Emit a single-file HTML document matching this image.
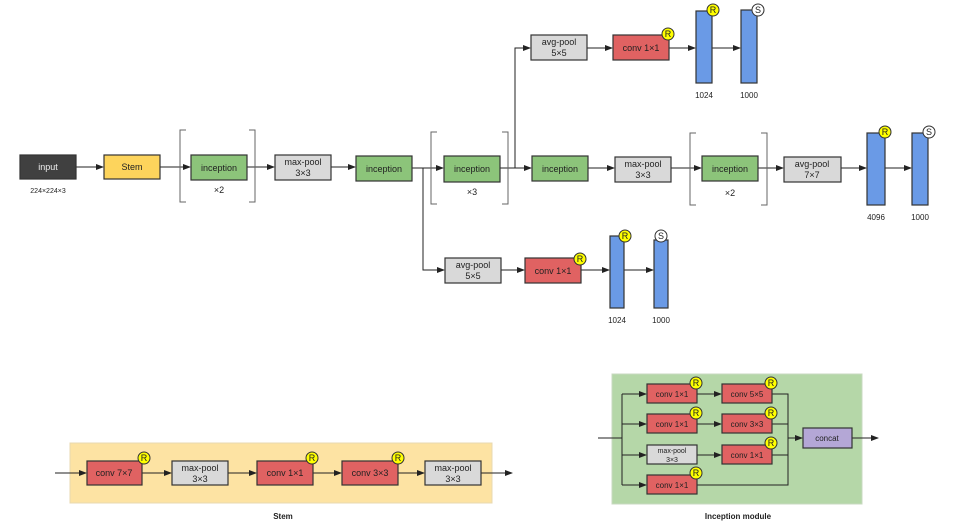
<!DOCTYPE html>
<html><head><meta charset="utf-8"><style>
body{margin:0;background:#fff}
svg{display:block}
text{font-family:"Liberation Sans",sans-serif;font-size:9px;fill:#222;text-anchor:middle}
.b{stroke:#333;stroke-width:1.2}
.g{fill:#8cc47a}.gr{fill:#d9d9d9}.r{fill:#e06262}.bl{fill:#6a9ae6}
.l{stroke:#222;stroke-width:1;fill:none}
.br{stroke:#666;stroke-width:1;fill:none}
</style></head><body>
<svg width="958" height="523" viewBox="0 0 958 523">
<defs><marker id="a" markerWidth="8" markerHeight="6" refX="7" refY="3" orient="auto" markerUnits="userSpaceOnUse"><path d="M0,0L8,3L0,6z" fill="#222"/></marker></defs>
<!-- main row lines -->
<g class="l" marker-end="url(#a)">
<path d="M76,167H103"/><path d="M160,167H190"/><path d="M247,167H274"/><path d="M331,167H355"/><path d="M412,168H443"/>
<path d="M423,168V270H444"/><path d="M501,270H524"/><path d="M581,270H609"/><path d="M624,270H653"/>
<path d="M500,168H531"/><path d="M515,168V48H530"/><path d="M587,48H612"/><path d="M669,48H695"/><path d="M712,48H740"/>
<path d="M588,168H614"/><path d="M671,168H701"/><path d="M758,168H783"/><path d="M841,168H866"/><path d="M885,168H911"/>
</g>
<!-- brackets -->
<path class="br" d="M186,130H180V202H186M249,130H255V202H249"/>
<path class="br" d="M437,132H431V204H437M502,132H508V204H502"/>
<path class="br" d="M696,133H690V205H696M761,133H767V205H761"/>
<!-- boxes -->
<rect class="b" x="20" y="155" width="56" height="24" fill="#404040"/><text x="48" y="170" style="fill:#eee">input</text>
<text x="48" y="193" style="font-size:7px">224×224×3</text>
<rect class="b" x="104" y="155" width="56" height="24" fill="#fdd45c"/><text x="132" y="170">Stem</text>
<rect class="b g" x="191" y="155" width="56" height="25"/><text x="219" y="171">inception</text><text x="219" y="193">×2</text>
<rect class="b gr" x="275" y="155" width="56" height="25"/><text x="303" y="165">max-pool</text><text x="303" y="176">3×3</text>
<rect class="b g" x="356" y="156" width="56" height="25"/><text x="384" y="172">inception</text>
<rect class="b g" x="444" y="156" width="56" height="26"/><text x="472" y="172">inception</text><text x="472" y="195">×3</text>
<rect class="b gr" x="445" y="258" width="56" height="25"/><text x="473" y="268">avg-pool</text><text x="473" y="279">5×5</text>
<rect class="b r" x="525" y="258" width="56" height="25"/><text x="553" y="274">conv 1×1</text>
<rect class="b bl" x="610" y="236" width="14" height="72"/><rect class="b bl" x="654" y="240" width="14" height="68"/>
<text x="617" y="323" style="font-size:8px">1024</text><text x="661" y="323" style="font-size:8px">1000</text>
<rect class="b gr" x="531" y="35" width="56" height="25"/><text x="559" y="45">avg-pool</text><text x="559" y="56">5×5</text>
<rect class="b r" x="613" y="35" width="56" height="25"/><text x="641" y="51">conv 1×1</text>
<rect class="b bl" x="696" y="11" width="16" height="72"/><rect class="b bl" x="741" y="10" width="16" height="73"/>
<text x="704" y="98" style="font-size:8px">1024</text><text x="749" y="98" style="font-size:8px">1000</text>
<rect class="b g" x="532" y="156" width="56" height="25"/><text x="560" y="172">inception</text>
<rect class="b gr" x="615" y="157" width="56" height="25"/><text x="643" y="167">max-pool</text><text x="643" y="178">3×3</text>
<rect class="b g" x="702" y="156" width="56" height="25"/><text x="730" y="172">inception</text><text x="730" y="196">×2</text>
<rect class="b gr" x="784" y="157" width="57" height="25"/><text x="812" y="167">avg-pool</text><text x="812" y="178">7×7</text>
<rect class="b bl" x="867" y="133" width="18" height="72"/><rect class="b bl" x="912" y="133" width="16" height="72"/>
<text x="876" y="220" style="font-size:8px">4096</text><text x="920" y="220" style="font-size:8px">1000</text>
<!-- R / S circles -->
<g stroke="#333" stroke-width="1">
<circle cx="580" cy="259" r="6" fill="#ffff00"/><circle cx="625" cy="236" r="6" fill="#ffff00"/><circle cx="661" cy="236" r="6" fill="#fff"/>
<circle cx="668" cy="34" r="6" fill="#ffff00"/><circle cx="713" cy="10" r="6" fill="#ffff00"/><circle cx="758" cy="10" r="6" fill="#fff"/>
<circle cx="885" cy="132" r="6" fill="#ffff00"/><circle cx="929" cy="132" r="6" fill="#fff"/>
</g>
<g style="font-size:8px">
<text x="580" y="262">R</text><text x="625" y="239">R</text><text x="661" y="239">S</text>
<text x="668" y="37">R</text><text x="713" y="13">R</text><text x="758" y="13">S</text>
<text x="885" y="135">R</text><text x="929" y="135">S</text>
</g>
<!-- Stem panel -->
<rect x="70" y="443" width="422" height="60" fill="#fde3a3" stroke="#e8d8b0"/>
<g class="l" marker-end="url(#a)">
<path d="M55,473H86"/><path d="M142,473H171"/><path d="M228,473H256"/><path d="M313,473H341"/><path d="M398,473H424"/><path d="M481,473H512"/>
</g>
<rect class="b r" x="87" y="461" width="55" height="24"/><text x="114" y="476">conv 7×7</text>
<rect class="b gr" x="172" y="461" width="56" height="24"/><text x="200" y="471">max-pool</text><text x="200" y="482">3×3</text>
<rect class="b r" x="257" y="461" width="56" height="24"/><text x="285" y="476">conv 1×1</text>
<rect class="b r" x="342" y="461" width="56" height="24"/><text x="370" y="476">conv 3×3</text>
<rect class="b gr" x="425" y="461" width="56" height="24"/><text x="453" y="471">max-pool</text><text x="453" y="482">3×3</text>
<g stroke="#333" stroke-width="1" fill="#ffff00"><circle cx="144" cy="458" r="6"/><circle cx="312" cy="458" r="6"/><circle cx="398" cy="458" r="6"/></g>
<g style="font-size:8px"><text x="144" y="461">R</text><text x="312" y="461">R</text><text x="398" y="461">R</text></g>
<text x="283" y="519" style="font-weight:bold;font-size:8px">Stem</text>
<!-- Inception module -->
<rect x="612" y="374" width="250" height="130" fill="#b5d7a8" stroke="#c8d8c0"/>
<g class="l">
<path d="M598,438H622"/><path d="M622,394V485"/>
<path d="M772,394H788V485H697"/><path d="M772,424H788"/><path d="M772,455H788"/>
</g>
<g class="l" marker-end="url(#a)">
<path d="M622,394H646"/><path d="M622,424H646"/><path d="M622,455H646"/><path d="M622,485H646"/>
<path d="M697,394H721"/><path d="M697,424H721"/><path d="M697,455H721"/>
<path d="M788,438H802"/><path d="M852,438H878"/>
</g>
<rect class="b r" x="647" y="384" width="50" height="19"/><text x="672" y="397" style="font-size:8px">conv 1×1</text>
<rect class="b r" x="722" y="384" width="50" height="19"/><text x="747" y="397" style="font-size:8px">conv 5×5</text>
<rect class="b r" x="647" y="414" width="50" height="19"/><text x="672" y="427" style="font-size:8px">conv 1×1</text>
<rect class="b r" x="722" y="414" width="50" height="19"/><text x="747" y="427" style="font-size:8px">conv 3×3</text>
<rect class="b gr" x="647" y="445" width="50" height="19"/><text x="672" y="453" style="font-size:7px">max-pool</text><text x="672" y="462" style="font-size:7px">3×3</text>
<rect class="b r" x="722" y="445" width="50" height="19"/><text x="747" y="458" style="font-size:8px">conv 1×1</text>
<rect class="b r" x="647" y="475" width="50" height="19"/><text x="672" y="488" style="font-size:8px">conv 1×1</text>
<rect class="b" x="803" y="428" width="49" height="20" fill="#b4a7d6"/><text x="827" y="441" style="font-size:8px">concat</text>
<g stroke="#333" stroke-width="1" fill="#ffff00">
<circle cx="696" cy="383" r="6"/><circle cx="771" cy="383" r="6"/><circle cx="696" cy="413" r="6"/><circle cx="771" cy="413" r="6"/><circle cx="771" cy="443" r="6"/><circle cx="696" cy="473" r="6"/></g>
<g style="font-size:8px"><text x="696" y="386">R</text><text x="771" y="386">R</text><text x="696" y="416">R</text><text x="771" y="416">R</text><text x="771" y="446">R</text><text x="696" y="476">R</text></g>
<text x="738" y="519" style="font-weight:bold;font-size:8px">Inception module</text>
</svg>
</body></html>
